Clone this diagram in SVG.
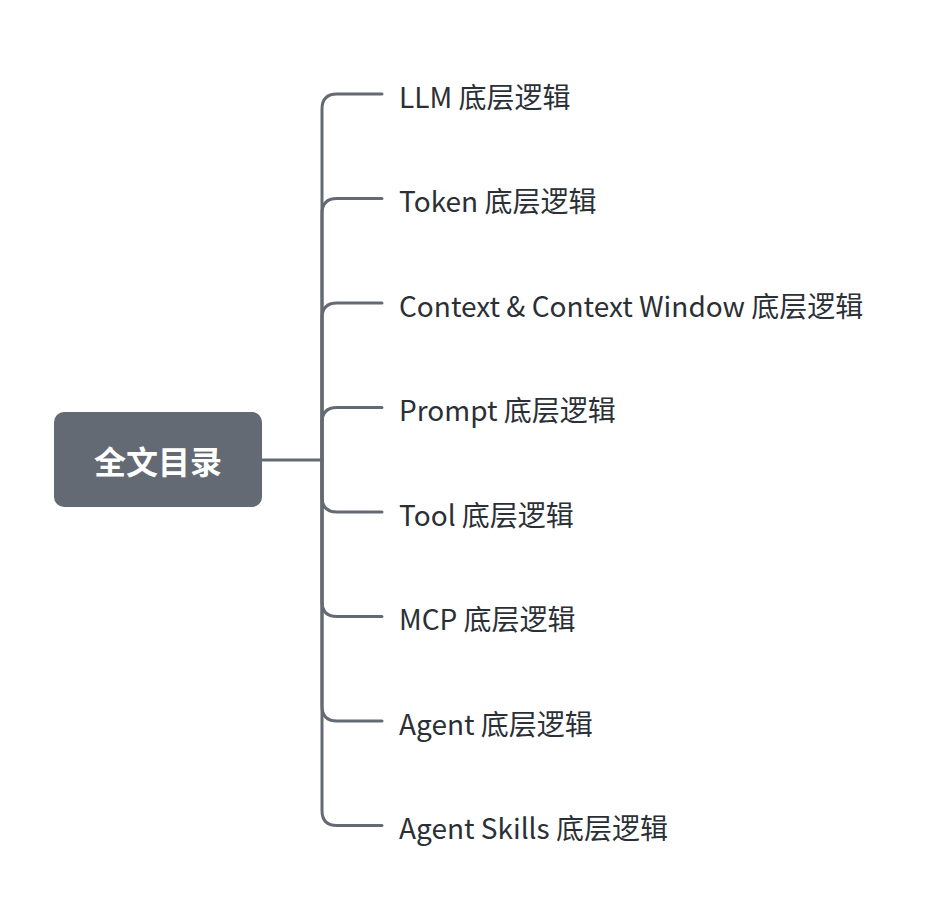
<svg xmlns="http://www.w3.org/2000/svg" width="932" height="900" viewBox="0 0 932 900">
<style>
.c{fill:none;stroke:#646a73;stroke-width:3;stroke-linecap:round}
.t{font-family:"Noto Sans CJK SC","Noto Sans",sans-serif;font-size:28px;fill:#2b2f36}
.r{font-family:"Noto Sans CJK SC","Noto Sans",sans-serif;font-size:32px;font-weight:bold;fill:#ffffff}
</style>
<rect width="932" height="900" fill="#ffffff"/>
<g id="connectors">
<path class="c" d="M262,460 H322"/>
<path class="c" d="M322,460 V109 Q322,94 337,94 H382"/>
<path class="c" d="M322,460 V213.5 Q322,198.5 337,198.5 H382"/>
<path class="c" d="M322,460 V318 Q322,303 337,303 H382"/>
<path class="c" d="M322,460 V422.5 Q322,407.5 337,407.5 H382"/>
<path class="c" d="M322,460 V497 Q322,512 337,512 H382"/>
<path class="c" d="M322,460 V601.5 Q322,616.5 337,616.5 H382"/>
<path class="c" d="M322,460 V706 Q322,721 337,721 H382"/>
<path class="c" d="M322,460 V810.5 Q322,825.5 337,825.5 H382"/>
</g>
<g id="root">
<rect x="54" y="412" width="208" height="95" rx="10" fill="#646a73"/>
<text class="r" x="158" y="460" text-anchor="middle" dominant-baseline="central">全文目录</text>
</g>
<g id="n1"><text class="t" x="399" y="95.5" dominant-baseline="central">LLM 底层逻辑</text></g>
<g id="n2"><text class="t" x="399" y="200" dominant-baseline="central">Token 底层逻辑</text></g>
<g id="n3"><text class="t" x="399" y="304.5" dominant-baseline="central">Context &amp; Context Window 底层逻辑</text></g>
<g id="n4"><text class="t" x="399" y="409" dominant-baseline="central">Prompt 底层逻辑</text></g>
<g id="n5"><text class="t" x="399" y="513.5" dominant-baseline="central">Tool 底层逻辑</text></g>
<g id="n6"><text class="t" x="399" y="618" dominant-baseline="central">MCP 底层逻辑</text></g>
<g id="n7"><text class="t" x="399" y="722.5" dominant-baseline="central">Agent 底层逻辑</text></g>
<g id="n8"><text class="t" x="399" y="827" dominant-baseline="central">Agent Skills 底层逻辑</text></g>
</svg>
